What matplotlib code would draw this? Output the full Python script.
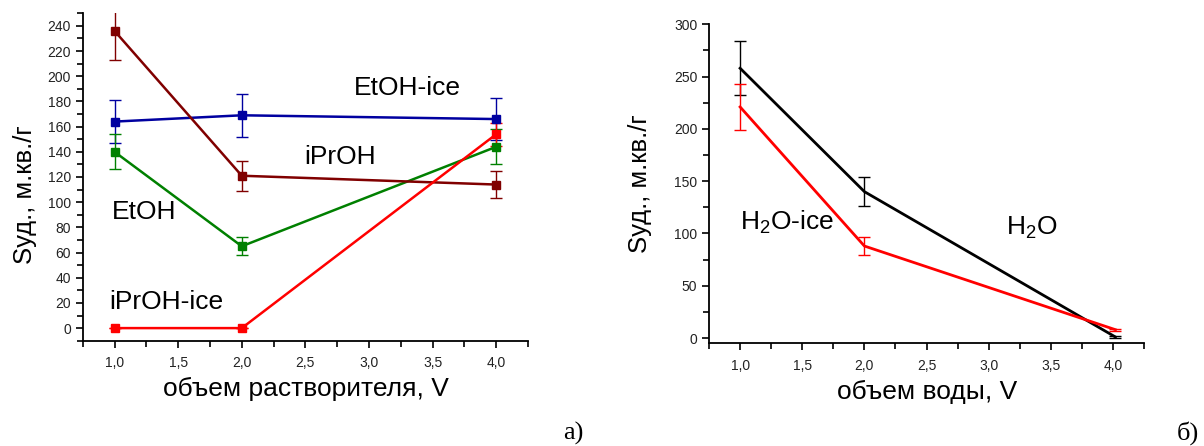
import numpy as np
import matplotlib
matplotlib.use('Agg')
import matplotlib.pyplot as plt
from matplotlib.ticker import MultipleLocator, FuncFormatter

plt.rcParams['font.family'] = ['Liberation Sans', 'DejaVu Sans']
plt.rcParams['mathtext.fontset'] = 'custom'
plt.rcParams['mathtext.rm'] = 'Liberation Sans'
plt.rcParams['mathtext.it'] = 'Liberation Sans:italic'

# a) solvents
V = [1.0, 2.0, 4.0]
etoh_ice = [164, 169, 166]
etoh_ice_err = [17, 17, 17]
etoh = [140, 65, 144]
etoh_err = [14, 7, 14]
iproh = [236, 121, 114]
iproh_err = [23, 12, 11]
iproh_ice = [0, 0, 154]
iproh_ice_err = [0, 0, 9]

# б) water
V_w = [1.0, 2.0, 4.02]
h2o = [258, 140, 1]
h2o_err = [26, 14, 1]
h2o_ice = [221, 88, 8]
h2o_ice_err = [22, 9, 1]

comma = FuncFormatter(lambda v, p: ('%.1f' % v).replace('.', ','))

fig = plt.figure(figsize=(12.04, 4.46), dpi=100)
ax1 = fig.add_axes([0.0687, 0.2361, 0.3699, 0.7341])
ax2 = fig.add_axes([0.5889, 0.2303, 0.3613, 0.7152])

def style(ax):
    for s in ['top', 'right']:
        ax.spines[s].set_visible(False)
    for s in ['left', 'bottom']:
        ax.spines[s].set_linewidth(1.3)
    ax.xaxis.set_major_locator(MultipleLocator(0.5))
    ax.xaxis.set_minor_locator(MultipleLocator(0.25))
    ax.xaxis.set_major_formatter(comma)
    ax.tick_params(which='both', direction='out', width=1.2, labelsize=10,
                   labelcolor='#222222')
    ax.tick_params(which='major', length=5)
    ax.tick_params(which='minor', length=4)
    ax.tick_params(axis='x', pad=6)

series = [
    (etoh_ice, etoh_ice_err, '#0000a0'),
    (etoh, etoh_err, '#008000'),
    (iproh, iproh_err, '#800000'),
    (iproh_ice, iproh_ice_err, '#ff0000'),
]
for y, e, c in series:
    ax1.errorbar(V, y, yerr=e, color=c, lw=1.8, marker='s', ms=6,
                 elinewidth=1.0, capsize=4, capthick=1.0)

ax1.set_xlim(0.75, 4.25)
ax1.set_ylim(-10, 250)
ax1.yaxis.set_major_locator(MultipleLocator(20))
ax1.yaxis.set_minor_locator(MultipleLocator(10))
style(ax1)
ax1.set_xlabel('объем растворителя, V', fontsize=19)
ax1.xaxis.set_label_coords(0.502, -0.11)
ax1.set_ylabel('Sуд., м.кв./г', fontsize=18.5)
ax1.yaxis.set_label_coords(-0.103, 0.445)

ax1.text(3.3, 191, 'EtOH-ice', fontsize=19, ha='center', va='center')
ax1.text(2.77, 136, 'iPrOH', fontsize=19, ha='center', va='center')
ax1.text(1.23, 92, 'EtOH', fontsize=19, ha='center', va='center')
ax1.text(1.41, 21, 'iPrOH-ice', fontsize=19, ha='center', va='center')

ax2.errorbar(V_w, h2o, yerr=h2o_err, color='black', lw=2.0,
             elinewidth=1.0, capsize=4, capthick=1.0)
ax2.errorbar(V_w, h2o_ice, yerr=h2o_ice_err, color='#ff0000', lw=2.0,
             elinewidth=1.0, capsize=4, capthick=1.0)
ax2.set_xlim(0.75, 4.25)
ax2.set_ylim(-5, 300)
ax2.yaxis.set_major_locator(MultipleLocator(50))
ax2.yaxis.set_minor_locator(MultipleLocator(25))
style(ax2)
ax2.set_xlabel('объем воды, V', fontsize=19)
ax2.xaxis.set_label_coords(0.502, -0.115)
ax2.set_ylabel('Sуд., м.кв./г', fontsize=18.5)
ax2.yaxis.set_label_coords(-0.132, 0.5)

ax2.text(1.0, 111, r'H$_\mathrm{2}$O-ice', fontsize=19, ha='left', va='center')
ax2.text(3.35, 105, r'H$_\mathrm{2}$O', fontsize=19, ha='center', va='center')

fig.text(573 / 1204, 1 - 433 / 446, 'а)', family='Liberation Serif',
         fontsize=19, ha='center', va='center')
fig.text(1188 / 1204, 1 - 433 / 446, 'б)', family='Liberation Serif',
         fontsize=19, ha='center', va='center')

fig.savefig('out.png', dpi=100)
